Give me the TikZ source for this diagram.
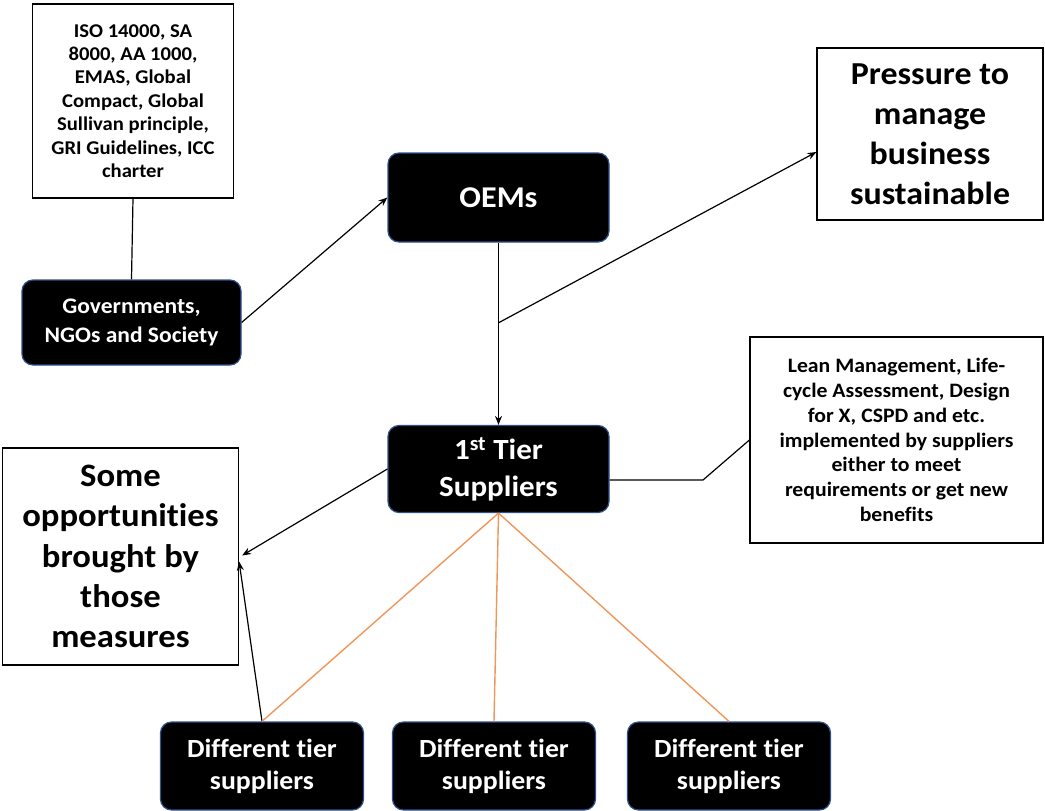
\documentclass[tikz,border=0pt]{standalone}
\usepackage{fontspec}
\setmainfont{Carlito}[FakeStretch=1.06, Ligatures=NoCommon, RawFeature=-clig]
\usetikzlibrary{arrows.meta,calc}
\definecolor{navyedge}{HTML}{2F528F}
\definecolor{orangeline}{HTML}{F0965A}
\begin{document}
\begin{tikzpicture}[x=1pt,y=-1pt,
  blk/.style={fill=black, draw=navyedge, line width=1.2pt, rounded corners=11pt,
    text=white, align=center, inner sep=0pt},
  wbox/.style={draw=black, line width=1.2pt, fill=white, align=center, inner sep=0pt},
  conn/.style={draw=black, line width=1.2pt},
  arr/.style={conn, -{Stealth[length=9pt,width=7pt]}},
  org/.style={draw=orangeline, line width=1.4pt}]
\useasboundingbox (0,0) rectangle (1045,811);

% white text boxes
\node[wbox, minimum width=201pt, minimum height=194pt,
  font={\bfseries\fontsize{19.5}{23.4}\selectfont}] (std) at (133,101)
  {ISO 14000, SA\\8000, AA 1000,\\EMAS, Global\\Compact, Global\\Sullivan principle,\\GRI Guidelines, ICC\\charter};
\node[wbox, minimum width=226pt, minimum height=172pt,
  font={\bfseries\fontsize{32}{40}\selectfont}] (press) at (930,134)
  {Pressure to\\manage\\business\\sustainable};
\node[wbox, minimum width=293pt, minimum height=206pt,
  font={\bfseries\fontsize{20.5}{24.8}\selectfont}] (lean) at (896.5,440)
  {Lean Management, Life-\\cycle Assessment, Design\\for X, CSPD and etc.\\implemented by suppliers\\either to meet\\requirements or get new\\benefits};
\node[wbox, minimum width=236pt, minimum height=217pt,
  font={\bfseries\fontsize{32.7}{40.3}\selectfont}] (opp) at (120.5,556.5)
  {Some\\opportunities\\brought by\\those\\measures};

% black boxes
\node[blk, minimum width=219pt, minimum height=85pt,
  font={\bfseries\fontsize{22.2}{29}\selectfont}] (gov) at (131.5,322.5)
  {Governments,\\NGOs and Society};
\node[blk, minimum width=221pt, minimum height=89pt,
  font={\bfseries\fontsize{30.2}{34}\selectfont}] (oem) at (498.5,197.5) {OEMs};
\node[blk, minimum width=221pt, minimum height=87pt,
  font={\bfseries\fontsize{29.3}{37}\selectfont}] (tier1) at (498.5,469)
  {1\textsuperscript{st} Tier\\Suppliers};
\foreach \n/\cx in {d1/262, d2/494, d3/729}
  \node[blk, minimum width=203pt, minimum height=88pt,
    font={\bfseries\fontsize{26.2}{32}\selectfont}] (\n) at (\cx,766)
    {Different tier\\suppliers};

% connectors
\draw[conn] (std.south) -- (gov.north);
\draw[arr] (gov.east) -- (oem.west);
\draw[arr] (oem.south) -- (tier1.north);
\coordinate (br) at ($(oem.south)!0.44!(tier1.north)$);
\draw[arr] (br) -- ($(press.west)+(0,18)$);
\coordinate (t1e) at ($(tier1.east)+(0,11)$);
\coordinate (bend) at (703,480);
\draw[conn] (t1e) -- (bend) -- (lean.west);
\draw[arr] (tier1.west) -- ($(opp.east)+(3,-1)$);
\draw[arr] (d1.north) -- ($(opp.east)+(0,5)$);
\foreach \n in {d1,d2,d3}
  \draw[org] (tier1.south) -- (\n.north);
\end{tikzpicture}
\end{document}
